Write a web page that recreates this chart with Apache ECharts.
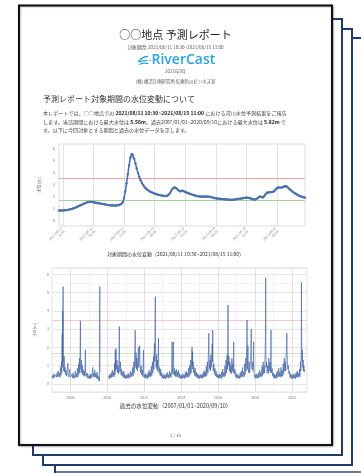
<!DOCTYPE html>
<html><head><meta charset="utf-8">
<script src="https://cdn.jsdelivr.net/npm/echarts@6/dist/echarts.min.js"></script>
<style>html,body{margin:0;padding:0;background:#fff}#c{width:361px;height:473px}</style>
</head><body><div id="c"></div>
<script>
// ---- Forecast period: water level every 30 min from 2021-08-11 10:30 ----
const periodStart = Date.UTC(2021, 7, 11, 10, 30);
const periodLevels = [
0.80,0.80,0.80,0.81,0.82,0.83,0.84,0.86,0.88,0.91,0.94,0.97,1.01,1.05,1.10,1.15,1.20,1.25,1.30,1.35,
1.40,1.45,1.49,1.52,1.53,1.53,1.52,1.50,1.48,1.46,1.44,1.42,1.40,1.38,1.36,1.34,1.32,1.30,1.28,1.26,
1.24,1.23,1.22,1.22,1.22,1.23,1.25,1.28,1.31,1.36,1.50,1.85,2.40,3.10,3.85,4.60,5.25,5.56,5.45,5.15,
4.75,4.35,3.95,3.62,3.35,3.12,2.95,2.80,2.68,2.58,2.50,2.43,2.37,2.32,2.27,2.23,2.19,2.16,2.13,2.10,
2.08,2.06,2.04,2.03,2.03,2.05,2.12,2.25,2.45,2.62,2.72,2.74,2.68,2.58,2.48,2.42,2.45,2.48,2.42,2.36,
2.32,2.28,2.24,2.20,2.16,2.12,2.09,2.06,2.03,2.01,1.99,1.98,1.98,1.97,1.97,1.97,1.98,1.97,1.96,1.94,
1.91,1.88,1.85,1.83,1.82,1.80,1.79,1.78,1.77,1.76,1.75,1.74,1.73,1.72,1.72,1.71,1.71,1.72,1.73,1.75,
1.77,1.78,1.80,1.82,1.84,1.86,1.88,1.89,1.88,1.86,1.83,1.79,1.76,1.73,1.73,1.78,1.86,1.95,1.98,1.93,
1.90,2.00,2.18,2.30,2.32,2.33,2.35,2.36,2.38,2.45,2.58,2.70,2.74,2.73,2.73,2.75,2.78,2.84,2.85,2.80,
2.70,2.60,2.50,2.41,2.33,2.26,2.19,2.13,2.07,2.02,1.98,1.95,1.92,1.89
];
const thresholds = [3.5, 1.7];          // red (warning), green (standby)
// ---- Past record 2007/01/01 - 2020/09/10 : [decimal year, level] ----
const pastRecord = [
[2007.00,0.42],[2007.03,0.30],[2007.05,0.48],[2007.08,0.33],[2007.11,0.55],[2007.13,0.35],[2007.16,0.45],[2007.19,0.28],[2007.22,0.50],[2007.25,0.36],[2007.28,0.62],[2007.31,0.38],[2007.34,0.70],[2007.37,0.40],[2007.40,0.58],[2007.43,0.35],[2007.46,0.90],[2007.48,0.45],[2007.51,1.20],[2007.53,0.60],[2007.55,2.70],[2007.56,0.90],[2007.58,4.00],[2007.59,1.20],[2007.60,5.33],[2007.61,2.00],[2007.62,1.10],[2007.64,0.70],[2007.66,1.50],[2007.68,0.65],[2007.71,0.90],[2007.73,0.50],[2007.76,0.75],[2007.79,0.42],[2007.82,0.65],[2007.86,1.13],[2007.88,0.50],[2007.91,0.38],[2007.94,0.55],[2007.97,0.80],[2007.99,0.35],
[2008.02,0.45],[2008.05,0.30],[2008.08,0.52],[2008.11,0.33],[2008.14,0.60],[2008.17,0.32],[2008.20,0.48],[2008.23,0.30],[2008.26,0.70],[2008.29,0.38],[2008.32,0.55],[2008.35,0.34],[2008.38,0.85],[2008.41,0.40],[2008.44,1.10],[2008.46,0.55],[2008.49,1.40],[2008.51,0.60],[2008.53,2.30],[2008.54,3.45],[2008.55,1.60],[2008.57,0.80],[2008.59,1.30],[2008.61,0.60],[2008.64,1.00],[2008.66,0.50],[2008.69,0.80],[2008.72,0.45],[2008.75,0.70],[2008.78,0.40],[2008.81,1.86],[2008.82,0.70],[2008.85,0.45],[2008.88,0.60],[2008.91,0.32],[2008.94,0.55],[2008.97,0.30],
[2009.00,0.42],[2009.03,0.28],[2009.06,0.50],[2009.09,0.30],[2009.12,0.55],[2009.15,0.33],[2009.18,0.62],[2009.21,0.90],[2009.23,0.40],[2009.26,0.60],[2009.29,0.35],[2009.32,0.75],[2009.35,0.38],[2009.38,0.55],[2009.41,0.30],[2009.44,0.65],[2009.47,0.28],[2009.50,0.45],[2009.53,0.18],[2009.55,0.35],[2009.57,0.15],[2009.59,5.33],[2009.60,0.60],[2009.80,null],
[2010.07,0.30],[2010.09,0.45],[2010.12,0.28],[2010.15,0.52],[2010.18,0.32],[2010.21,0.60],[2010.24,0.35],[2010.27,0.75],[2010.30,0.40],[2010.33,0.62],[2010.36,0.38],[2010.39,1.10],[2010.41,0.50],[2010.43,1.86],[2010.45,0.70],[2010.47,1.95],[2010.49,0.80],[2010.52,1.30],[2010.55,0.60],[2010.58,1.00],[2010.61,0.55],[2010.63,1.40],[2010.65,3.14],[2010.66,1.20],[2010.68,0.65],[2010.71,1.20],[2010.74,0.50],[2010.77,0.80],[2010.80,0.42],[2010.83,0.65],[2010.86,0.35],[2010.89,0.70],[2010.92,0.33],[2010.95,0.52],[2010.98,0.30],
[2011.01,0.45],[2011.04,0.28],[2011.07,0.50],[2011.10,0.32],[2011.13,0.58],[2011.16,0.30],[2011.19,0.48],[2011.22,0.35],[2011.25,0.70],[2011.28,0.38],[2011.31,0.60],[2011.34,0.40],[2011.37,0.90],[2011.40,0.45],[2011.43,1.20],[2011.46,0.60],[2011.48,1.60],[2011.50,2.10],[2011.51,2.95],[2011.52,1.50],[2011.54,0.90],[2011.56,1.70],[2011.58,0.80],[2011.61,1.40],[2011.63,0.70],[2011.66,1.20],[2011.68,2.00],[2011.70,0.90],[2011.73,1.40],[2011.75,2.10],[2011.77,1.00],[2011.80,0.60],[2011.83,1.00],[2011.86,0.50],[2011.89,0.75],[2011.92,0.40],[2011.94,1.20],[2011.96,1.85],[2011.97,0.60],[2011.99,0.35],
[2012.02,0.50],[2012.05,0.30],[2012.08,0.55],[2012.11,0.32],[2012.14,0.48],[2012.17,0.28],[2012.20,0.60],[2012.23,0.34],[2012.26,0.75],[2012.29,0.40],[2012.32,0.65],[2012.35,0.38],[2012.38,0.95],[2012.41,0.45],[2012.44,1.20],[2012.47,0.60],[2012.50,1.50],[2012.52,0.80],[2012.55,2.20],[2012.57,1.20],[2012.59,3.85],[2012.60,4.78],[2012.61,2.60],[2012.63,1.40],[2012.65,0.90],[2012.67,1.60],[2012.69,0.80],[2012.71,1.30],[2012.73,0.70],[2012.75,1.20],[2012.77,2.50],[2012.78,1.10],[2012.80,0.60],[2012.83,0.90],[2012.86,0.45],[2012.89,0.80],[2012.92,0.40],[2012.95,0.60],[2012.98,0.32],
[2013.01,0.48],[2013.04,0.28],[2013.07,0.52],[2013.10,0.30],[2013.13,0.45],[2013.16,0.27],[2013.19,0.55],[2013.22,0.32],[2013.25,0.62],[2013.28,0.35],[2013.31,0.50],[2013.34,0.30],[2013.37,0.70],[2013.40,0.38],[2013.43,0.60],[2013.46,0.35],[2013.49,1.00],[2013.51,2.30],[2013.52,0.90],[2013.54,0.55],[2013.56,1.20],[2013.58,2.30],[2013.59,1.00],[2013.61,0.50],[2013.63,0.85],[2013.66,0.42],[2013.69,0.70],[2013.71,0.38],[2013.74,0.80],[2013.77,0.40],[2013.80,0.65],[2013.83,0.35],[2013.86,0.75],[2013.89,0.33],[2013.92,0.55],[2013.95,0.30],[2013.98,0.45],
[2014.01,0.28],[2014.04,0.50],[2014.07,0.30],[2014.10,0.55],[2014.13,0.33],[2014.16,0.48],[2014.19,0.28],[2014.22,0.62],[2014.25,0.35],[2014.28,0.70],[2014.31,0.38],[2014.34,0.58],[2014.37,0.35],[2014.40,0.85],[2014.43,0.40],[2014.46,1.00],[2014.49,0.50],[2014.52,1.30],[2014.54,0.60],[2014.57,1.60],[2014.59,2.00],[2014.60,1.00],[2014.62,1.75],[2014.63,0.80],[2014.65,1.20],[2014.67,0.60],[2014.70,0.90],[2014.73,0.45],[2014.76,0.85],[2014.79,0.40],[2014.82,0.65],[2014.85,0.35],[2014.88,0.55],[2014.91,0.30],[2014.94,0.50],[2014.97,0.28],
[2015.00,0.45],[2015.03,0.30],[2015.06,0.52],[2015.09,0.32],[2015.12,0.48],[2015.15,0.30],[2015.18,0.60],[2015.21,0.35],[2015.24,0.72],[2015.27,0.40],[2015.30,0.65],[2015.33,0.38],[2015.36,0.95],[2015.39,0.45],[2015.42,1.20],[2015.45,0.60],[2015.47,1.50],[2015.49,2.40],[2015.50,2.77],[2015.51,1.40],[2015.53,0.80],[2015.56,1.30],[2015.58,0.70],[2015.61,1.60],[2015.63,0.90],[2015.66,1.40],[2015.68,2.20],[2015.70,1.20],[2015.71,2.95],[2015.72,1.30],[2015.74,0.70],[2015.77,1.10],[2015.80,0.55],[2015.83,0.85],[2015.86,0.42],[2015.89,0.70],[2015.92,0.38],[2015.95,0.55],[2015.98,0.32],
[2016.01,0.48],[2016.04,0.30],[2016.07,0.55],[2016.10,0.32],[2016.13,0.50],[2016.16,0.28],[2016.19,0.65],[2016.22,0.35],[2016.25,0.80],[2016.28,0.40],[2016.31,0.62],[2016.34,0.38],[2016.37,1.00],[2016.40,0.45],[2016.43,1.30],[2016.46,0.60],[2016.49,1.60],[2016.51,0.80],[2016.53,2.50],[2016.54,4.32],[2016.55,1.80],[2016.57,1.00],[2016.59,1.50],[2016.61,0.70],[2016.64,1.20],[2016.66,0.60],[2016.69,1.00],[2016.72,0.55],[2016.75,1.40],[2016.77,0.70],[2016.80,1.10],[2016.82,0.60],[2016.84,1.90],[2016.85,2.30],[2016.86,1.00],[2016.88,0.55],[2016.91,0.80],[2016.94,0.40],[2016.97,0.60],[2016.99,0.33],
[2017.02,0.48],[2017.05,0.30],[2017.08,0.52],[2017.11,0.32],[2017.14,0.45],[2017.17,0.28],[2017.20,0.60],[2017.23,0.35],[2017.26,0.70],[2017.29,0.38],[2017.32,0.90],[2017.35,0.40],[2017.38,0.65],[2017.41,0.38],[2017.44,1.10],[2017.47,0.50],[2017.50,1.40],[2017.52,0.70],[2017.55,1.80],[2017.57,3.50],[2017.58,1.50],[2017.60,0.80],[2017.62,2.10],[2017.63,1.00],[2017.66,0.60],[2017.69,1.20],[2017.71,0.60],[2017.74,1.00],[2017.77,1.60],[2017.80,3.00],[2017.81,1.40],[2017.84,0.80],[2017.87,1.20],[2017.90,0.70],[2017.93,2.30],[2017.94,0.90],[2017.96,0.50],[2017.99,0.35],
[2018.02,0.50],[2018.05,0.30],[2018.08,0.55],[2018.11,0.32],[2018.14,0.48],[2018.17,0.30],[2018.20,0.62],[2018.23,0.35],[2018.26,0.75],[2018.29,0.40],[2018.32,0.60],[2018.35,0.38],[2018.38,0.95],[2018.41,0.45],[2018.44,1.20],[2018.47,0.55],[2018.50,1.00],[2018.52,0.60],[2018.55,1.60],[2018.57,2.80],[2018.58,5.82],[2018.59,1.80],[2018.61,0.90],[2018.63,1.20],[2018.66,0.60],[2018.69,1.00],[2018.72,0.55],[2018.75,1.40],[2018.78,0.70],[2018.81,1.20],[2018.84,0.60],[2018.86,1.95],[2018.87,2.95],[2018.88,1.20],[2018.90,0.60],[2018.93,0.85],[2018.96,0.42],[2018.99,0.60],
[2019.02,0.33],[2019.05,0.52],[2019.08,0.30],[2019.11,0.48],[2019.14,0.28],[2019.17,0.60],[2019.20,0.33],[2019.23,0.70],[2019.26,0.38],[2019.29,0.85],[2019.32,0.40],[2019.35,0.65],[2019.38,0.36],[2019.41,0.90],[2019.44,0.42],[2019.47,0.75],[2019.50,0.40],[2019.53,1.10],[2019.56,0.55],[2019.59,1.40],[2019.62,0.70],[2019.65,1.20],[2019.67,0.70],[2019.69,1.60],[2019.71,2.15],[2019.73,2.77],[2019.74,1.80],[2019.76,1.20],[2019.78,0.80],[2019.81,1.00],[2019.84,0.55],[2019.87,0.70],[2019.90,0.35],[2019.93,0.55],[2019.96,0.30],[2019.99,0.50],
[2020.02,0.28],[2020.05,0.48],[2020.08,0.30],[2020.11,0.55],[2020.14,0.32],[2020.17,0.50],[2020.20,0.28],[2020.23,0.62],[2020.26,0.35],[2020.29,0.70],[2020.32,0.38],[2020.35,0.58],[2020.38,0.35],[2020.41,0.80],[2020.44,0.40],[2020.47,1.20],[2020.49,0.70],[2020.51,2.10],[2020.52,5.56],[2020.53,2.40],[2020.55,1.20],[2020.57,1.85],[2020.59,0.90],[2020.61,1.30],[2020.63,0.70],[2020.65,1.00],[2020.67,0.65],[2020.69,0.80]
];
const yTicks = [0, 1, 2, 3, 4, 5, 6];

// category labels for the forecast period (30-min steps)
const pad = n => String(n).padStart(2, '0');
const periodCats = periodLevels.map((_, i) => {
  const d = new Date(periodStart + i * 1800000);
  return d.getUTCFullYear() + '-' + pad(d.getUTCMonth() + 1) + '-' + pad(d.getUTCDate()) + '\n' + pad(d.getUTCHours()) + ':' + pad(d.getUTCMinutes());
});
const isHalfDay = (i, v) => /\n(00|12):00$/.test(v);

const JP = '"Noto Sans CJK JP", "Noto Sans", sans-serif';
const txt = (t, x, y, size, color) => ({
  type: 'text', z: 20, x: x, y: y,
  style: { text: t, fontSize: size, fontFamily: JP, fill: color, align: 'center', verticalAlign: 'middle' }
});
const rich = {
  n: { fontSize: 5.1, fontFamily: JP, fill: '#444' },
  b: { fontSize: 5.1, fontFamily: JP, fill: '#222', fontWeight: 'bold' }
};
const bodyLine = (t, y) => ({ type: 'text', z: 20, x: 43, y: y,
  style: { text: t, rich: rich, fontSize: 5.1, fontFamily: JP, fill: '#444', align: 'left', verticalAlign: 'middle' } });
const LOGO = '#2aa4dc';

const chart = echarts.init(document.getElementById('c'), null, { renderer: 'canvas' });
chart.setOption({
  animation: false,
  backgroundColor: '#fff',
  textStyle: { fontFamily: JP },
  graphic: [
    { type: 'rect', z: -40, shape: { x: 55, y: 38, width: 320, height: 434 }, style: { fill: '#fff', stroke: '#1f3b68', lineWidth: 2 } },
    { type: 'line', z: -39, shape: { x1: 56, y1: 472, x2: 361, y2: 472 }, style: { stroke: '#b8b8b8', lineWidth: 1 } },
    { type: 'rect', z: -30, shape: { x: 43, y: 29, width: 309, height: 436 }, style: { fill: '#fff', stroke: '#1f3b68', lineWidth: 2 } },
    { type: 'rect', z: -20, shape: { x: 33, y: 19, width: 309, height: 436 }, style: { fill: '#fff', stroke: '#1f3b68', lineWidth: 2 } },
    { type: 'rect', z: -10, shape: { x: 19, y: 5.5, width: 313, height: 439.5 }, style: { fill: '#fff', stroke: '#111', lineWidth: 2, shadowBlur: 2, shadowColor: 'rgba(0,0,0,0.35)', shadowOffsetX: 0.5, shadowOffsetY: 0.5 } },
    txt('○○地点 予測レポート', 175.5, 35, 11, '#222'),
    txt('対象期間: 2021/08/11 10:30~2021/08/15 11:00', 175.5, 47, 4.6, '#555'),
    { type: 'bezierCurve', z: 20, shape: { x1: 148, y1: 56.5, cpx1: 144, cpy1: 56.5, cpx2: 140.5, cpy2: 58.5, x2: 138.5, y2: 62 }, style: { fill: 'none', stroke: LOGO, lineWidth: 1.3 } },
    { type: 'bezierCurve', z: 20, shape: { x1: 138.5, y1: 62, cpx1: 141.5, cpy1: 61, cpx2: 144.5, cpy2: 60.2, x2: 147.5, y2: 60.4 }, style: { fill: 'none', stroke: LOGO, lineWidth: 1.3 } },
    { type: 'bezierCurve', z: 20, shape: { x1: 139.5, y1: 64.5, cpx1: 142.5, cpy1: 62.8, cpx2: 145.5, cpy2: 63, x2: 148.5, y2: 63.6 }, style: { fill: 'none', stroke: LOGO, lineWidth: 1.3 } },
    { type: 'circle', z: 20, shape: { cx: 150.2, cy: 60.3, r: 0.8 }, style: { fill: LOGO } },
    { type: 'text', z: 20, x: 151.5, y: 60.5, style: { text: 'RiverCast', fontSize: 14, fontFamily: '"Open Sans", sans-serif', fontWeight: 600, fill: LOGO, align: 'left', verticalAlign: 'middle' } },
    txt('2021年9月', 175.5, 71, 4.4, '#555'),
    txt('(株) 構造計画研究所 気象防災ビジネス室', 175.5, 81, 4.4, '#555'),
    { type: 'text', z: 20, x: 43, y: 98.5, style: { text: '予測レポート対象期間の水位変動について', fontSize: 8, fontFamily: JP, fill: '#333', align: 'left', verticalAlign: 'middle' } },
    bodyLine('{n|本レポートでは、○○地点での }{b|2021/08/11 10:30~2021/08/15 11:00}{n| における河川水位予測結果をご報告}', 113),
    bodyLine('{n|します。当該期間における最大水位は }{b|5.56m}{n|、過去2007/01/01~2020/09/10における最大水位は }{b|5.82m}{n| で}', 121.8),
    bodyLine('{n|す。以下に今回対象とする期間と過去の水位データを示します。}', 130.5),
    txt('対象期間の水位変動（2021/08/11 10:30~2021/08/15 11:00）', 175.5, 254, 5, '#333'),
    txt('過去の水位変動（2007/01/01~2020/09/10）', 175.5, 406, 5.6, '#333'),
    txt('1 / 15', 175.5, 435, 4.2, '#555')
  ],
  grid: [
    { left: 59, right: 56, top: 144, height: 82, show: true, borderColor: '#dcdcdc', borderWidth: 1, backgroundColor: 'transparent' },
    { left: 52, right: 54, top: 268, height: 124, show: true, borderColor: '#e0e0e0', borderWidth: 1, backgroundColor: 'transparent' }
  ],
  xAxis: [
    { gridIndex: 0, type: 'category', data: periodCats, boundaryGap: false,
      axisLine: { show: false }, axisTick: { show: false },
      axisLabel: { interval: isHalfDay, rotate: 45, fontSize: 3.4, color: '#888', margin: 3, lineHeight: 4 },
      splitLine: { show: true, interval: isHalfDay, lineStyle: { color: '#e2e2e2', width: 1 } } },
    { gridIndex: 1, type: 'value', min: 2007, max: 2020.82, interval: 1,
      axisLine: { show: false }, axisTick: { show: false },
      axisLabel: { fontSize: 3.6, color: '#777', margin: 4, formatter: v => (Number.isInteger(v) && v % 2 === 0) ? String(v) : '' },
      splitLine: { show: true, lineStyle: { color: ['#f1f1f1', '#e1e1e1'], width: 1 } } }
  ],
  yAxis: [
    { gridIndex: 0, type: 'value', min: -0.5, max: 6.4, splitNumber: 6,
      name: '水位 [m]', nameLocation: 'middle', nameGap: 8, nameRotate: 90, nameTextStyle: { fontSize: 4, color: '#666' },
      axisLine: { show: false }, axisTick: { show: false },
      axisLabel: { fontSize: 4, color: '#777', margin: 4, formatter: v => yTicks.includes(v) ? String(v) : '' },
      splitLine: { show: false } },
    { gridIndex: 1, type: 'value', min: -0.45, max: 6.35, splitNumber: 6,
      name: '水位 [m]', nameLocation: 'middle', nameGap: 7, nameRotate: 90, nameTextStyle: { fontSize: 3.6, color: '#666' },
      axisLine: { show: false }, axisTick: { show: false },
      axisLabel: { fontSize: 3.6, color: '#777', margin: 3, formatter: v => yTicks.includes(v) ? String(v) : '' },
      splitLine: { show: true, lineStyle: { color: '#e6e6e6', width: 1 } },
      minorTick: { show: false, splitNumber: 2 },
      minorSplitLine: { show: true, lineStyle: { color: '#f3f3f3', width: 1 } } }
  ],
  series: [
    { type: 'line', xAxisIndex: 0, yAxisIndex: 0, data: periodLevels,
      symbol: 'circle', symbolSize: 2.4, showSymbol: true, showAllSymbol: true,
      lineStyle: { color: '#4C72B0', width: 1.6 }, itemStyle: { color: '#4C72B0' },
      markLine: { silent: true, symbol: 'none', label: { show: false },
        data: [ { yAxis: thresholds[0], lineStyle: { color: '#f2a3a3', width: 1.2, type: 'solid' } },
                { yAxis: thresholds[1], lineStyle: { color: '#a3d49c', width: 1.2, type: 'solid' } } ] },
      z: 5 },
    { type: 'line', xAxisIndex: 1, yAxisIndex: 1, data: pastRecord, showSymbol: false, connectNulls: false,
      lineStyle: { color: 'rgba(62,96,160,0.8)', width: 0.8 },
      markLine: { silent: true, symbol: 'none', label: { show: false },
        data: [ { yAxis: thresholds[0], lineStyle: { color: '#f4c0c0', width: 0.8, type: 'solid' } },
                { yAxis: thresholds[1], lineStyle: { color: '#bfe0b8', width: 0.8, type: 'solid' } } ] },
      z: 5 }
  ]
});
</script></body></html>
